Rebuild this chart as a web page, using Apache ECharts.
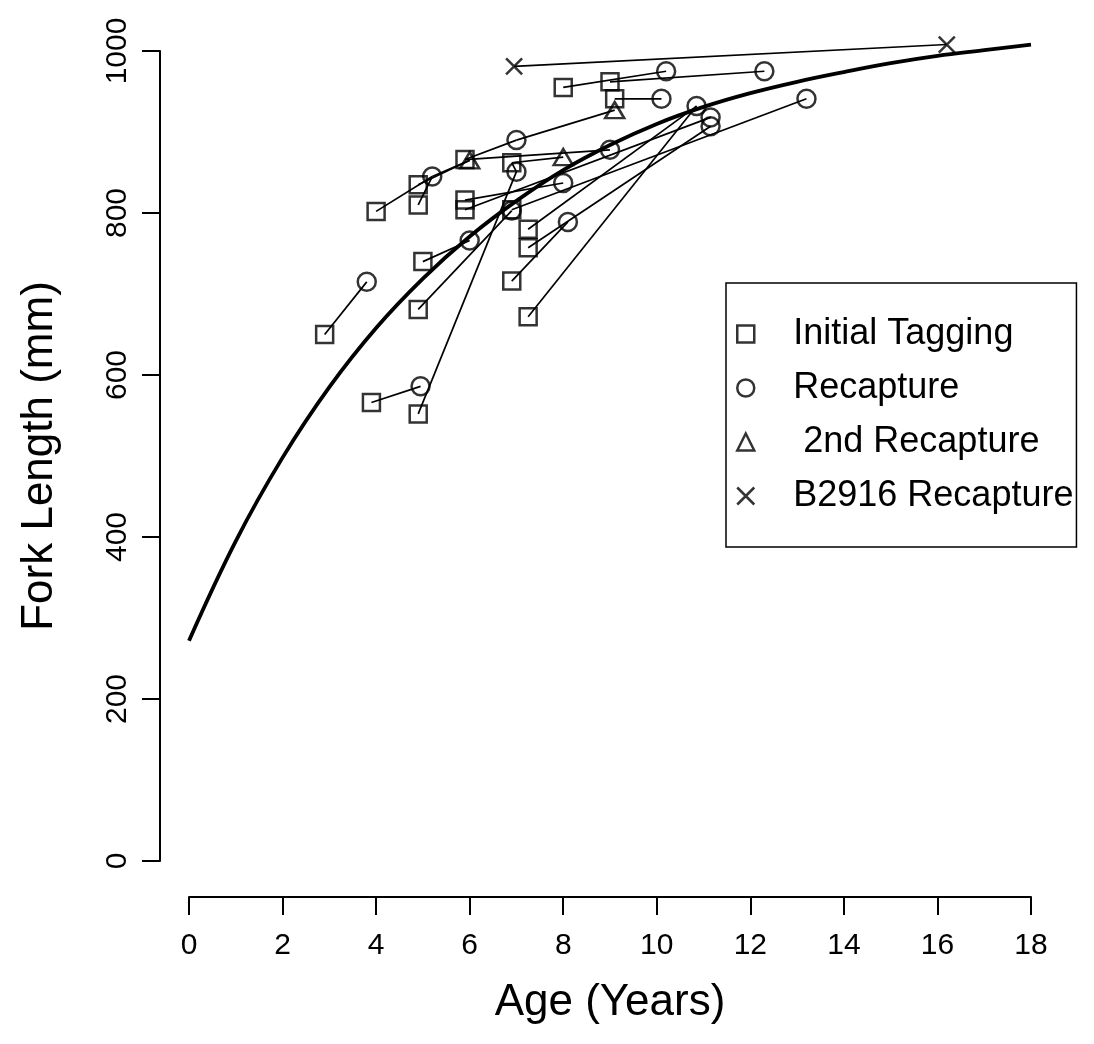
<!DOCTYPE html>
<html>
<head>
<meta charset="utf-8">
<script src="https://cdn.jsdelivr.net/npm/echarts/dist/echarts.min.js"></script>
<style>
  html, body { margin: 0; padding: 0; background: #fff; }
  #chart { width: 1094px; height: 1044px; }
</style>
</head>
<body>
<div id="chart"></div>
<script>
// growth curve (age in years, fork length in mm)
var curveAge = [0, 1, 2, 3, 4, 5, 6, 7, 8, 9, 10, 11, 12, 13, 14, 15, 16, 17, 18];
var curveLength = [272, 395, 498, 585, 658, 719, 771, 815, 853, 884, 910, 931, 948, 962, 974, 985, 994, 1001, 1008];

var tagging = [
  [2.9, 650], [3.9, 566], [4.0, 802], [4.9, 552], [4.9, 681], [5.0, 740], [4.9, 810],
  [4.9, 835], [5.9, 804], [5.9, 816], [5.9, 866], [6.9, 716], [6.9, 804], [6.9, 862],
  [7.25, 672], [7.25, 757], [7.25, 780], [8.0, 955], [9.0, 962], [9.1, 941]
];
var recapture = [
  [3.8, 715], [4.95, 586], [5.2, 845], [6.0, 766], [6.9, 803], [7.0, 851], [7.0, 890],
  [8.0, 837], [8.1, 789], [9.0, 878], [10.1, 941], [10.2, 975], [10.85, 932], [11.15, 918],
  [11.15, 907], [12.3, 975], [13.2, 941]
];
var recapture2 = [[6.0, 865], [8.0, 869], [9.1, 927]];
var b2916 = [[6.95, 981], [16.2, 1008]];

// segments joining the same fish between captures
var links = [
  [[2.9, 650], [3.8, 715]],
  [[3.9, 566], [4.95, 586]],
  [[4.9, 552], [7.0, 851]],
  [[4.0, 802], [5.2, 845]],
  [[4.9, 810], [5.2, 845]],
  [[5.2, 845], [6.0, 865]],
  [[4.9, 835], [6.0, 865]],
  [[4.9, 681], [6.9, 803]],
  [[5.0, 740], [6.0, 766]],
  [[5.9, 866], [9.0, 878]],
  [[5.9, 866], [7.0, 890]],
  [[7.0, 890], [9.1, 927]],
  [[7.0, 851], [6.9, 862]],
  [[6.9, 862], [8.0, 869]],
  [[6.9, 716], [8.1, 789]],
  [[6.9, 804], [13.2, 941]],
  [[7.25, 672], [10.85, 932]],
  [[7.25, 780], [10.85, 932]],
  [[7.25, 757], [11.15, 907]],
  [[5.9, 804], [11.15, 918]],
  [[5.9, 816], [8.0, 837]],
  [[8.0, 955], [10.2, 975]],
  [[9.0, 962], [12.3, 975]],
  [[9.1, 941], [10.1, 941]],
  [[6.95, 981], [16.2, 1008]]
];

var font = 'Liberation Sans, Arial, sans-serif';
var hollow = { color: 'rgba(0,0,0,0)', borderColor: '#000', borderWidth: 2.5 };

var series = links.map(function (seg) {
  return {
    type: 'line',
    data: seg,
    showSymbol: false,
    silent: true,
    clip: false,
    lineStyle: { color: '#000', width: 1.7 },
    z: 2
  };
});

series.push({
  type: 'line',
  data: curveAge.map(function (a, i) { return [a, curveLength[i]]; }),
  smooth: 0.4,
  showSymbol: false,
  silent: true,
  clip: false,
  lineStyle: { color: '#000', width: 3.8 },
  z: 3
});

series.push(
  { name: 'Initial Tagging', type: 'scatter', symbol: 'rect', symbolSize: 17, data: tagging, itemStyle: hollow, clip: false, z: 4 },
  { name: 'Recapture', type: 'scatter', symbol: 'circle', symbolSize: 18, data: recapture, itemStyle: hollow, clip: false, z: 4 },
  { name: ' 2nd Recapture', type: 'scatter', symbol: 'triangle', symbolSize: [19, 16], data: recapture2, itemStyle: hollow, clip: false, z: 4 },
  { name: 'B2916 Recapture', type: 'scatter', symbol: 'path://M0,0L10,10M10,0L0,10', symbolSize: 16, data: b2916, itemStyle: hollow, clip: false, z: 4 }
);

var chart = echarts.init(document.getElementById('chart'));
chart.setOption({
  backgroundColor: '#fff',
  animation: false,
  grid: { left: 189, right: 63, top: 51, bottom: 183 },
  xAxis: {
    type: 'value', min: 0, max: 18, interval: 2,
    offset: 36,
    name: 'Age (Years)', nameLocation: 'middle', nameGap: 84,
    nameTextStyle: { fontSize: 44, color: '#000', fontFamily: font },
    splitLine: { show: false },
    axisLine: { onZero: false, lineStyle: { color: '#000', width: 2 } },
    axisTick: { length: 18, lineStyle: { color: '#000', width: 2 } },
    axisLabel: { fontSize: 30, color: '#000', fontFamily: font, margin: 34 }
  },
  yAxis: {
    type: 'value', min: 0, max: 1000, interval: 200,
    offset: 29,
    name: 'Fork Length (mm)', nameLocation: 'middle', nameGap: 98, nameRotate: 90,
    nameTextStyle: { fontSize: 44, color: '#000', fontFamily: font },
    splitLine: { show: false },
    axisLine: { show: true, onZero: false, lineStyle: { color: '#000', width: 2 } },
    axisTick: { show: true, length: 18, lineStyle: { color: '#000', width: 2 } },
    axisLabel: {
      fontSize: 30, color: '#000', fontFamily: font, rotate: 90, margin: 27,
      formatter: function (v) { return String(v); }
    }
  },
  legend: {
    orient: 'vertical', left: 726, top: 283,
    data: ['Initial Tagging', 'Recapture', ' 2nd Recapture', 'B2916 Recapture'],
    itemWidth: 17, itemHeight: 17, itemGap: 18,
    padding: [33, 3, 33, 10],
    borderColor: '#000', borderWidth: 1.5,
    selectedMode: false,
    itemStyle: hollow,
    textStyle: { fontSize: 36, color: '#000', fontFamily: font, padding: [0, 0, 0, 34] }
  },
  series: series
});
</script>
</body>
</html>
